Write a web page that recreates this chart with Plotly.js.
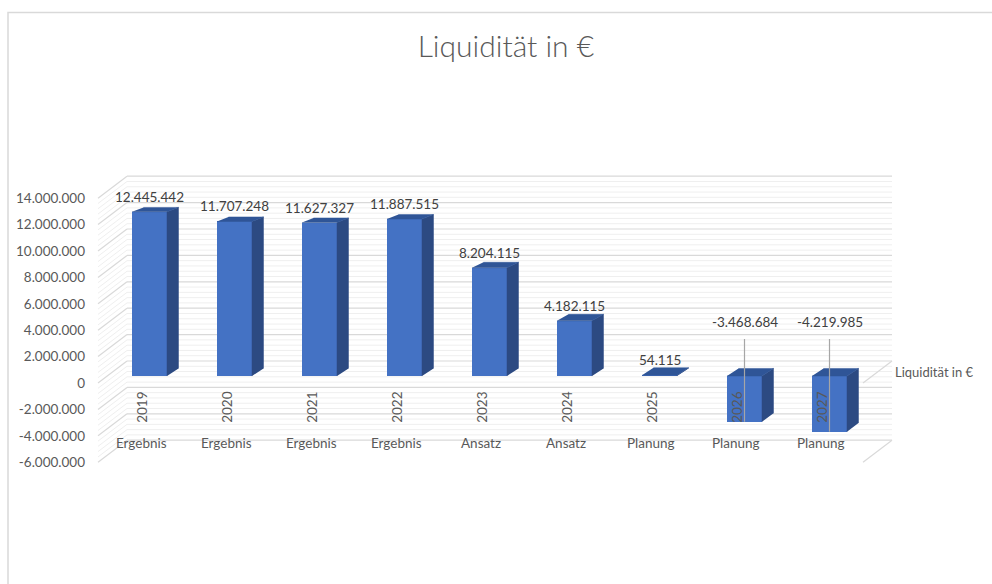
<!DOCTYPE html>
<html>
<head>
<meta charset="utf-8">
<script src="https://cdn.plot.ly/plotly-3.0.1.min.js"></script>
<style>
  html, body { margin: 0; padding: 0; background: #ffffff; }
  #chart { width: 992px; height: 584px; }
</style>
</head>
<body>
<div id="chart"></div>
<script>
// ---- data ----
const years = ['2019', '2020', '2021', '2022', '2023', '2024', '2025', '2026', '2027'];
const groups = ['Ergebnis', 'Ergebnis', 'Ergebnis', 'Ergebnis', 'Ansatz', 'Ansatz', 'Planung', 'Planung', 'Planung'];
const liquidity = [12445442, 11707248, 11627327, 11887515, 8204115, 4182115, 54115, -3468684, -4219985];
const tickValues = [-6000000, -4000000, -2000000, 0, 2000000, 4000000, 6000000, 8000000, 10000000, 12000000, 14000000];
const tickLabels = ['-6.000.000', '-4.000.000', '-2.000.000', '0', '2.000.000', '4.000.000', '6.000.000', '8.000.000', '10.000.000', '12.000.000', '14.000.000'];
const seriesName = 'Liquidität in €';
const chartTitle = 'Liquidität in €';

// ---- pseudo 3D geometry (style constants) ----
const PX_PER_M = 13.2;             // px per 1.000.000
const pxY = p => p / PX_PER_M * 1e6; // px height -> value units
const backDy = pxY(22);            // back wall offset (vertical)
const wallBackX0 = -0.2647, wallBackX1 = 8.7353, wallFrontX0 = -0.6059, floorFrontX1 = 8.3941;
const barBase = pxY(7);            // bars sit a little behind the front plane
const barHalf = 0.206;
const depthDx = 0.135;
const depthDy = lev => pxY(7.7 - 0.26 * (lev / 1e6)); // slight perspective

function fmt(v) {
  const s = Math.abs(Math.round(v)).toString().replace(/\B(?=(\d{3})+(?!\d))/g, '.');
  return (v < 0 ? '-' : '') + s;
}

const xs = years.map((_, i) => i);
const bases = liquidity.map(() => barBase);

// side and top faces
const sideX = [], sideY = [], topX = [], topY = [];
liquidity.forEach((v, i) => {
  const xr = i + barHalf, xl = i - barHalf;
  const lo = barBase + Math.min(0, v), hi = barBase + Math.max(0, v);
  sideX.push(xr, xr, xr + depthDx, xr + depthDx, null);
  sideY.push(lo, hi, hi + depthDy(hi), lo + depthDy(lo), null);
  topX.push(xl, xr, xr + depthDx, xl + depthDx, null);
  topY.push(hi, hi, hi + depthDy(hi), hi + depthDy(hi), null);
});

const traces = [
  {
    type: 'bar', x: xs, y: liquidity, base: bases, width: 2 * barHalf,
    marker: { color: '#4472C4', line: { width: 0 } }, hoverinfo: 'skip', showlegend: false
  },
  {
    type: 'scatter', mode: 'lines', x: sideX, y: sideY, fill: 'toself', fillcolor: '#2C4A82',
    line: { color: '#2C4A82', width: 0.5 }, hoverinfo: 'skip', showlegend: false
  },
  {
    type: 'scatter', mode: 'lines', x: topX, y: topY, fill: 'toself', fillcolor: '#2F5597',
    line: { color: '#2F5597', width: 0.5 }, hoverinfo: 'skip', showlegend: false
  }
];

// gridlines on back wall and left wall
const shapes = [];
for (let k = 0; k <= 50; k++) {
  const v = (-60 + 4 * k) * 1e5;
  const major = k % 5 === 0;
  const col = major ? '#D9D9D9' : '#EFEFEF';
  const w = major ? 1.2 : 1;
  shapes.push({ type: 'line', layer: 'below', xref: 'x', yref: 'y', x0: wallBackX0, x1: wallBackX1, y0: v + backDy, y1: v + backDy, line: { color: col, width: w } });
  shapes.push({ type: 'line', layer: 'below', xref: 'x', yref: 'y', x0: wallFrontX0, x1: wallBackX0, y0: v, y1: v + backDy, line: { color: col, width: w } });
}
[0, -6000000].forEach(v => {
  shapes.push({ type: 'line', layer: 'below', xref: 'x', yref: 'y', x0: floorFrontX1, x1: wallBackX1, y0: v, y1: v + backDy, line: { color: '#D9D9D9', width: 1.2 } });
});

// leader lines for negative labels
const negLabelY = pxY(61), leaderTop = pxY(44);
liquidity.forEach((v, i) => {
  if (v < 0) {
    shapes.push({ type: 'line', layer: 'above', xref: 'x', yref: 'y', x0: i, x1: i, y0: leaderTop, y1: barBase + v, line: { color: '#A6A6A6', width: 1.2 } });
  }
});

// chart border
shapes.push({ type: 'rect', layer: 'below', xref: 'paper', yref: 'paper', x0: (8 - 90) / 810, x1: 1.2, y0: -0.6, y1: (470 - 12.5) / 300, line: { color: '#D9D9D9', width: 1.5 }, fillcolor: 'rgba(0,0,0,0)' });

const font = 'Lato, "Open Sans", sans-serif';
const annotations = [];
liquidity.forEach((v, i) => {
  if (v >= 0) {
    annotations.push({ x: i, y: barBase + v, xref: 'x', yref: 'y', text: fmt(v), showarrow: false, yanchor: 'middle', yshift: 15, font: { family: font, size: 13.5, color: '#404040' } });
  } else {
    annotations.push({ x: i, y: negLabelY, xref: 'x', yref: 'y', text: fmt(v), showarrow: false, yanchor: 'middle', font: { family: font, size: 13.5, color: '#404040' } });
  }
  annotations.push({ x: i - 0.09, y: pxY(-24), xref: 'x', yref: 'y', text: years[i], showarrow: false, textangle: -90, xanchor: 'center', yanchor: 'middle', font: { family: font, size: 13.5, color: '#595959' } });
  annotations.push({ x: i - 0.1, y: pxY(-60), xref: 'x', yref: 'y', text: groups[i], showarrow: false, xanchor: 'center', yanchor: 'middle', font: { family: font, size: 13.5, color: '#595959' } });
});
annotations.push({ x: 8.747, y: pxY(11), xref: 'x', yref: 'y', text: seriesName, showarrow: false, xanchor: 'left', yanchor: 'middle', font: { family: font, size: 13, color: '#595959' } });

const layout = {
  width: 992, height: 584,
  margin: { l: 90, r: 92, t: 170, b: 114, pad: 0 },
  paper_bgcolor: '#FFFFFF', plot_bgcolor: 'rgba(0,0,0,0)',
  title: { text: chartTitle, xref: 'container', yref: 'container', x: 0.51, y: 1 - 46 / 584, xanchor: 'center', yanchor: 'middle', font: { family: font, size: 30, weight: 300, color: '#595959' } },
  xaxis: { range: [-0.7, 8.8294], showgrid: false, zeroline: false, showline: false, showticklabels: false, ticks: '', fixedrange: true },
  yaxis: { range: [pxY(-87), pxY(213)], showgrid: false, zeroline: false, showline: false, ticks: '', tickmode: 'array', tickvals: tickValues, ticktext: tickLabels, ticklabelstandoff: 4, tickfont: { family: font, size: 13.5, color: '#595959' }, fixedrange: true },
  showlegend: false,
  shapes: shapes,
  annotations: annotations,
  bargap: 0
};

Plotly.newPlot('chart', traces, layout, { displayModeBar: false, staticPlot: true });
</script>
</body>
</html>
